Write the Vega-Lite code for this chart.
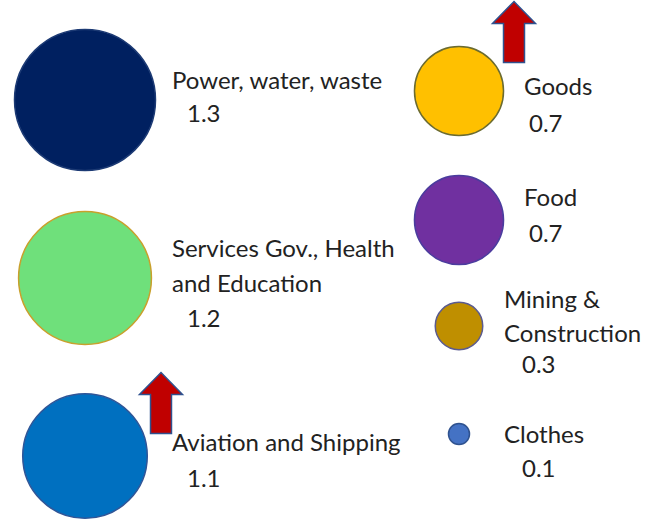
{
  "$schema": "https://vega.github.io/schema/vega-lite/v6.json",
  "width": 654,
  "height": 526,
  "padding": 0,
  "autosize": {"type": "none"},
  "background": "#ffffff",
  "config": {"view": {"stroke": null}},
  "data": {
    "values": [
      {"sector": "Power, water, waste", "value": 1.3, "column": "left", "slot": 1, "trend": "flat"},
      {"sector": "Services Gov., Health\nand Education", "value": 1.2, "column": "left", "slot": 2, "trend": "flat"},
      {"sector": "Aviation and Shipping", "value": 1.1, "column": "left", "slot": 3, "trend": "rising"},
      {"sector": "Goods", "value": 0.7, "column": "right", "slot": 1, "trend": "rising"},
      {"sector": "Food", "value": 0.7, "column": "right", "slot": 2, "trend": "flat"},
      {"sector": "Mining &\nConstruction", "value": 0.3, "column": "right", "slot": 3, "trend": "flat"},
      {"sector": "Clothes", "value": 0.1, "column": "right", "slot": 4, "trend": "flat"}
    ]
  },
  "encoding": {
    "x": {"field": "column", "type": "nominal", "scale": {"type": "point", "domain": ["left", "right"], "range": [85, 459], "padding": 0}, "axis": null}
  },
  "layer": [
    {
      "transform": [{"filter": "datum.column === 'left'"}],
      "mark": {"type": "point", "shape": "circle", "filled": true, "opacity": 1, "strokeWidth": 1.5},
      "encoding": {
        "y": {"field": "slot", "type": "quantitative", "scale": {"domain": [1, 3], "range": [100, 456]}, "axis": null},
        "size": {"field": "value", "type": "quantitative", "scale": {"type": "pow", "exponent": 1.484, "domain": [0, 1.3], "range": [0, 19881]}, "legend": null},
        "fill": {"field": "sector", "type": "nominal", "legend": null, "scale": {
          "domain": ["Power, water, waste", "Services Gov., Health\nand Education", "Aviation and Shipping", "Goods", "Food", "Mining &\nConstruction", "Clothes"],
          "range": ["#002060", "#6fe07b", "#0070c0", "#ffc000", "#7030a0", "#bf8f00", "#4472c4"]}},
        "stroke": {"field": "sector", "type": "nominal", "legend": null, "scale": {
          "domain": ["Power, water, waste", "Services Gov., Health\nand Education", "Aviation and Shipping", "Goods", "Food", "Mining &\nConstruction", "Clothes"],
          "range": ["#1c3a74", "#c9a02c", "#2f5597", "#6b6b30", "#4b3c9e", "#5b5b8f", "#2f528f"]}}
      }
    },
    {
      "transform": [{"filter": "datum.column === 'right'"}],
      "mark": {"type": "point", "shape": "circle", "filled": true, "opacity": 1, "strokeWidth": 1.5},
      "encoding": {
        "y": {"field": "slot", "type": "quantitative", "scale": {"domain": [1, 2, 3, 4], "range": [91, 220, 326, 434]}, "axis": null},
        "size": {"field": "value", "type": "quantitative", "scale": {"type": "pow", "exponent": 1.484, "domain": [0, 1.3], "range": [0, 19881]}, "legend": null},
        "fill": {"field": "sector", "type": "nominal", "legend": null},
        "stroke": {"field": "sector", "type": "nominal", "legend": null}
      }
    },
    {
      "transform": [{"filter": "datum.column === 'left'"}],
      "mark": {"type": "text", "align": "left", "baseline": "middle", "font": "Lato", "fontSize": 24, "lineHeight": 35, "lineBreak": "\n", "color": "#222222", "dx": 87},
      "encoding": {
        "y": {"field": "slot", "type": "quantitative", "scale": {"domain": [1, 2, 3], "range": [82, 250, 444]}, "axis": null},
        "text": {"field": "sector", "type": "nominal"}
      }
    },
    {
      "transform": [{"filter": "datum.column === 'left'"}],
      "mark": {"type": "text", "align": "left", "baseline": "middle", "font": "Lato", "fontSize": 24, "color": "#222222", "dx": 102},
      "encoding": {
        "y": {"field": "slot", "type": "quantitative", "scale": {"domain": [1, 2, 3], "range": [115, 320, 480]}, "axis": null},
        "text": {"field": "value", "type": "quantitative", "format": ".1f"}
      }
    },
    {
      "transform": [{"filter": "datum.column === 'right' && datum.value >= 0.5"}],
      "mark": {"type": "text", "align": "left", "baseline": "middle", "font": "Lato", "fontSize": 24, "lineHeight": 34, "lineBreak": "\n", "color": "#222222", "dx": 65},
      "encoding": {
        "y": {"field": "slot", "type": "quantitative", "scale": {"domain": [1, 2, 3, 4], "range": [88, 199, 301, 436]}, "axis": null},
        "text": {"field": "sector", "type": "nominal"}
      }
    },
    {
      "transform": [{"filter": "datum.column === 'right' && datum.value < 0.5"}],
      "mark": {"type": "text", "align": "left", "baseline": "middle", "font": "Lato", "fontSize": 24, "lineHeight": 34, "lineBreak": "\n", "color": "#222222", "dx": 45},
      "encoding": {
        "y": {"field": "slot", "type": "quantitative", "scale": {"domain": [1, 2, 3, 4], "range": [88, 199, 301, 436]}, "axis": null},
        "text": {"field": "sector", "type": "nominal"}
      }
    },
    {
      "transform": [{"filter": "datum.column === 'right' && datum.value >= 0.5"}],
      "mark": {"type": "text", "align": "left", "baseline": "middle", "font": "Lato", "fontSize": 24, "color": "#222222", "dx": 70},
      "encoding": {
        "y": {"field": "slot", "type": "quantitative", "scale": {"domain": [1, 2, 3, 4], "range": [125, 235, 366, 470]}, "axis": null},
        "text": {"field": "value", "type": "quantitative", "format": ".1f"}
      }
    },
    {
      "transform": [{"filter": "datum.column === 'right' && datum.value < 0.5"}],
      "mark": {"type": "text", "align": "left", "baseline": "middle", "font": "Lato", "fontSize": 24, "color": "#222222", "dx": 63},
      "encoding": {
        "y": {"field": "slot", "type": "quantitative", "scale": {"domain": [1, 2, 3, 4], "range": [125, 235, 366, 470]}, "axis": null},
        "text": {"field": "value", "type": "quantitative", "format": ".1f"}
      }
    },
    {
      "transform": [{"filter": "datum.column === 'left' && datum.trend === 'rising'"}],
      "mark": {"type": "point", "shape": "M0,-1L0.705,-0.279L0.344,-0.279L0.344,1L-0.344,1L-0.344,-0.279L-0.705,-0.279Z", "filled": true, "fill": "#c00000", "stroke": "#2f528f", "strokeWidth": 1.5, "opacity": 1, "size": 3721, "xOffset": 76, "yOffset": -53},
      "encoding": {
        "y": {"field": "slot", "type": "quantitative", "scale": {"domain": [1, 3], "range": [100, 456]}, "axis": null}
      }
    },
    {
      "transform": [{"filter": "datum.column === 'right' && datum.trend === 'rising'"}],
      "mark": {"type": "point", "shape": "M0,-1L0.705,-0.279L0.344,-0.279L0.344,1L-0.344,1L-0.344,-0.279L-0.705,-0.279Z", "filled": true, "fill": "#c00000", "stroke": "#2f528f", "strokeWidth": 1.5, "opacity": 1, "size": 3721, "xOffset": 55, "yOffset": -59},
      "encoding": {
        "y": {"field": "slot", "type": "quantitative", "scale": {"domain": [1, 2, 3, 4], "range": [91, 220, 326, 434]}, "axis": null}
      }
    }
  ],
  "resolve": {"scale": {"y": "independent"}}
}
